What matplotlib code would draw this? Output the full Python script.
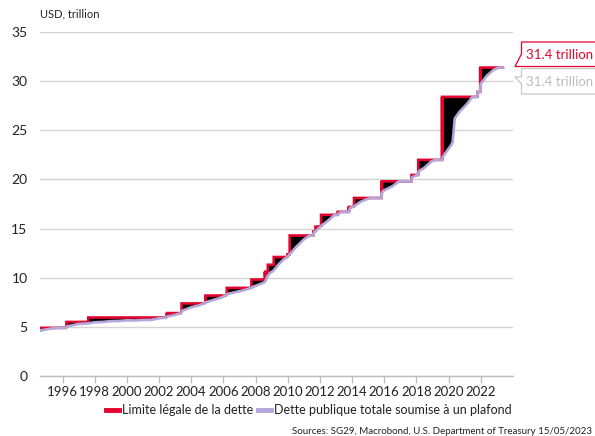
import numpy as np
import matplotlib
matplotlib.use("Agg")
import matplotlib.pyplot as plt
from matplotlib.patches import Polygon
from matplotlib.lines import Line2D

# ---------------- data ----------------
# Debt ceiling (step series: date the level takes effect, level in USD trillion)
limit_dates = [1994.65, 1996.24, 1997.60, 2002.49, 2003.40, 2004.89, 2006.21,
               2007.74, 2008.58, 2008.76, 2009.13, 2009.99, 2010.12, 2011.59,
               2011.72, 2012.07, 2013.10, 2013.79, 2014.12, 2015.84, 2017.69,
               2018.11, 2019.59, 2021.79, 2021.96]
limit_vals = [4.90, 5.50, 5.95, 6.40, 7.384, 8.184, 8.965,
              9.815, 10.615, 11.315, 12.104, 12.394, 14.294, 14.694,
              15.194, 16.394, 16.699, 17.20, 18.113, 19.809, 20.456,
              21.988, 28.401, 28.881, 31.381]

# Total public debt subject to limit
debt_dates = [1994.65, 1995.0, 1995.4, 1995.85, 1996.2, 1996.3, 1996.6, 1997.0,
              1997.4, 1997.6, 1998.0, 1998.5, 1999.0, 1999.5, 2000.0, 2000.5,
              2001.0, 2001.5, 2002.0, 2002.4, 2002.5, 2003.0, 2003.35, 2003.45,
              2004.0, 2004.5, 2004.8, 2004.9, 2005.3, 2005.8, 2006.15, 2006.25,
              2006.8, 2007.3, 2007.7, 2007.8, 2008.2, 2008.5, 2008.6, 2008.75,
              2008.9, 2009.1, 2009.4, 2009.7, 2009.95, 2010.05, 2010.5, 2011.0,
              2011.35, 2011.58, 2011.62, 2011.8, 2012.1, 2012.5, 2012.9, 2013.1,
              2013.2, 2013.4, 2013.8, 2013.85, 2014.0, 2014.1, 2014.5, 2015.0,
              2015.2, 2015.83, 2015.86, 2016.0, 2016.5, 2016.9, 2017.2, 2017.68,
              2017.72, 2017.95, 2018.1, 2018.15, 2018.5, 2018.9, 2019.15, 2019.6,
              2019.64, 2019.85, 2020.16, 2020.25, 2020.38, 2020.68, 2021.1, 2021.48,
              2021.78, 2021.8, 2021.96, 2021.98, 2022.34, 2022.75, 2023.1, 2023.37]
debt_vals = [4.62, 4.75, 4.85, 4.90, 4.90, 5.08, 5.15, 5.30,
             5.33, 5.36, 5.47, 5.50, 5.58, 5.60, 5.67, 5.65,
             5.70, 5.70, 5.87, 5.94, 6.05, 6.22, 6.40, 6.65,
             7.00, 7.20, 7.38, 7.50, 7.70, 7.95, 8.18, 8.35,
             8.55, 8.75, 8.96, 9.05, 9.30, 9.50, 9.63, 10.20,
             10.50, 10.70, 11.30, 11.80, 12.10, 12.25, 13.10, 13.90,
             14.29, 14.29, 14.60, 14.85, 15.30, 15.80, 16.39, 16.40,
             16.60, 16.70, 16.70, 17.05, 17.20, 17.25, 17.70, 18.05,
             18.11, 18.11, 18.70, 18.90, 19.30, 19.80, 19.81, 19.81,
             20.20, 20.40, 20.45, 20.85, 21.20, 21.80, 21.99, 21.99,
             22.30, 22.80, 23.50, 23.80, 26.20, 26.90, 27.60, 28.40,
             28.40, 28.88, 28.90, 29.70, 30.50, 31.10, 31.38, 31.38]

year_ticks = [1996, 1998, 2000, 2002, 2004, 2006, 2008, 2010, 2012, 2014,
              2016, 2018, 2020, 2022]
value_ticks = [0, 5, 10, 15, 20, 25, 30, 35]

label_limit = "Limite légale de la dette"
label_debt = "Dette publique totale soumise à un plafond"
last_limit_text = "31.4 trillion"
last_debt_text = "31.4 trillion"

# ---------------- styling ----------------
RED = "#e4032e"
LAV = "#b3a6d8"
GRID = "#d4d4d4"
TXT = "#222222"

plt.rcParams['font.family'] = ['Lato', 'DejaVu Sans']

W, H = 595, 436
fig = plt.figure(figsize=(W / 100, H / 100), dpi=100)
ax = fig.add_axes([40 / W, 1 - 376 / H, (513 - 40) / W, (376 - 32) / H])

# build red path (with vertical jumps) on common grid
debt_dates_a = np.array(debt_dates)
debt_vals_a = np.array(debt_vals)
lim_d = np.array(limit_dates)
lim_v = np.array(limit_vals)
grid = np.unique(np.concatenate([debt_dates_a, lim_d]))
grid = grid[grid <= debt_dates_a[-1]]
rx, ry = [], []
for x in grid:
    d = np.interp(x, debt_dates_a, debt_vals_a)
    k = np.searchsorted(lim_d, x, side='right') - 1
    if k > 0 and np.isclose(lim_d[k], x):
        rx.append(x)
        ry.append(max(lim_v[k - 1], d))
    rx.append(x)
    ry.append(max(lim_v[k], d))
rx = np.array(rx)
ry = np.array(ry)
rd = np.interp(rx, debt_dates_a, debt_vals_a)

ax.fill_between(rx, rd, ry, color="black", lw=0, zorder=2)
ax.plot(rx, ry, color=RED, lw=1.9, zorder=3, solid_joinstyle='miter')
ax.plot(debt_dates_a, debt_vals_a, color=LAV, lw=1.9, zorder=4)

ax.set_xlim(1994.6, 2024.0)
ax.set_ylim(0, 35)
ax.set_yticks(value_ticks)
ax.set_xticks(year_ticks)
ax.set_xticklabels([str(y) for y in year_ticks])
ax.yaxis.grid(True, color=GRID, lw=1.0, zorder=0)
ax.set_axisbelow(True)
for s in ['left', 'right', 'top']:
    ax.spines[s].set_visible(False)
ax.spines['bottom'].set_color("#bdbdbd")
ax.spines['bottom'].set_linewidth(1.0)
ax.tick_params(axis='y', length=0, pad=9, labelsize=10, labelcolor=TXT)
ax.tick_params(axis='x', length=5, width=1, color="#bdbdbd", pad=2,
               labelsize=9.5, labelcolor=TXT)

fig.text(40 / W, 1 - 14 / H, "USD, trillion", fontsize=8, color=TXT,
         ha='left', va='center')

# callout labels at the right
tr = fig.transFigure
def px(x, y):
    return (x / W, 1 - y / H)

red_box = Polygon([px(605, 42), px(521.5, 42), px(521.5, 54), px(515, 66.5),
                   px(605, 66.5)], closed=True, transform=tr, facecolor='white',
                  edgecolor=RED, lw=0.9, clip_on=False, zorder=5)
gray_box = Polygon([px(605, 68.5), px(521.5, 68.5), px(521.5, 77), px(515, 77),
                    px(521.5, 84), px(521.5, 94), px(605, 94)], closed=True,
                   transform=tr, facecolor='white', edgecolor="#c8c8c8", lw=0.9,
                   clip_on=False, zorder=5)
fig.patches.extend([red_box, gray_box])
fig.text(526 / W, 1 - 55 / H, last_limit_text, color=RED, fontsize=9.5,
         ha='left', va='center', zorder=6)
fig.text(526 / W, 1 - 81.5 / H, last_debt_text, color="#bdbdbd", fontsize=9.5,
         ha='left', va='center', zorder=6)

# legend
handles = [Line2D([], [], color=RED, lw=3.5), Line2D([], [], color=LAV, lw=3.5)]
fig.legend(handles, [label_limit, label_debt], loc='center',
           bbox_to_anchor=(309 / W, 1 - 410 / H), ncol=2, frameon=False,
           fontsize=9, handlelength=1.0, handletextpad=0.25,
           columnspacing=0.4, labelcolor=TXT)

fig.text(592 / W, 1 - 431 / H,
         "Sources: SG29, Macrobond, U.S. Department of Treasury 15/05/2023",
         fontsize=7, color=TXT, ha='right', va='center')

fig.savefig("out.png", dpi=100)
